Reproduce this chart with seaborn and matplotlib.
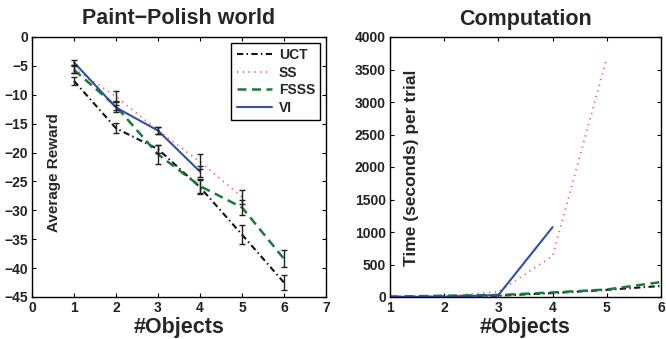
import matplotlib
matplotlib.use("Agg")
import matplotlib.pyplot as plt
import seaborn as sns
import numpy as np


# number of objects
objects = [1, 2, 3, 4, 5, 6]

# average reward (left panel) and error bar half-widths
uct_reward = [-7.6, -15.8, -19.4, -26.0, -34.2, -42.5]
uct_err = [0.7, 0.9, 0.7, 1.2, 1.65, 1.25]
ss_reward = [-5.5, -10.3, -16.2, -21.6, -27.7]
ss_err = [0.7, 0.9, 0.6, 1.3, 1.2]
fsss_reward = [-5.7, -12.0, -20.3, -25.8, -29.5, -38.4]
fsss_err = [0.6, 1.0, 1.6, 1.2, 1.3, 1.45]
vi_reward = [-4.4, -12.2, -16.2, -23.3]
vi_err = [0.4, 0.5, 0.6, 0.9]

# computation time per trial (right panel)
uct_time = [3, 10, 20, 60, 110, 170]
ss_time = [2, 10, 80, 630, 3680]
fsss_time = [5, 20, 30, 70, 115, 230]
vi_time = [1, 5, 30, 1075]

names = ["UCT", "SS", "FSSS", "VI"]
colors = {"UCT": "#111111", "SS": "#ff5a5a", "FSSS": "#1b7a3a", "VI": "#3050a8"}
styles = {
    "UCT": (0, (3.0, 1.6, 0.7, 1.6)),
    "SS": (0, (0.6, 2.4)),
    "FSSS": (0, (3.6, 2.2)),
    "VI": "-",
}
widths = {"UCT": 1.5, "SS": 1.4, "FSSS": 1.8, "VI": 1.5}

rewards = {"UCT": (uct_reward, uct_err), "SS": (ss_reward, ss_err),
           "FSSS": (fsss_reward, fsss_err), "VI": (vi_reward, vi_err)}
times = {"UCT": uct_time, "SS": ss_time, "FSSS": fsss_time, "VI": vi_time}

sns.set_style("ticks")
plt.rcParams["font.family"] = ["Liberation Sans", "DejaVu Sans"]
plt.rcParams["font.weight"] = "bold"
plt.rcParams["xtick.direction"] = "in"
plt.rcParams["ytick.direction"] = "in"

fig = plt.figure(figsize=(6.66, 3.39), dpi=100)
ax1 = fig.add_axes([32 / 666, 1 - 297 / 339, 294 / 666, 260 / 339])
ax2 = fig.add_axes([390 / 666, 1 - 297 / 339, 271 / 666, 260 / 339])

# left panel: reward with error bars
for name in names:
    vals, err = rewards[name]
    xs = objects[:len(vals)]
    ax1.errorbar(xs, vals, yerr=err, fmt="none", ecolor="#222222",
                 elinewidth=1.0, capsize=2.5, capthick=1.0, zorder=3)
    sns.lineplot(x=xs, y=vals, ax=ax1, color=colors[name],
                 linestyle=styles[name], linewidth=widths[name], label=name,
                 zorder=2)

ax1.set_xlim(0, 7)
ax1.set_ylim(-45, 0)
ax1.set_xticks(range(0, 8))
ax1.set_yticks(range(-45, 1, 5))
ax1.set_yticklabels([str(v).replace("-", "\u2212") for v in range(-45, 1, 5)])
ax1.set_title("Paint\u2212Polish world", fontsize=15.5, fontweight="bold", pad=9)
ax1.set_xlabel("#Objects", fontsize=15.5, fontweight="bold", labelpad=1)
ax1.set_ylabel("Average Reward", fontsize=11, fontweight="bold")
ax1.yaxis.set_label_coords(0.1, 0.477)
leg = ax1.legend(loc="upper right", fontsize=10, handlelength=2.5,
                 borderaxespad=0.4, fancybox=False, framealpha=1,
                 edgecolor="black", labelspacing=0.25, handletextpad=0.5,
                 borderpad=0.4)
leg.get_frame().set_linewidth(1.0)

# right panel: computation time
for name in names:
    vals = times[name]
    xs = objects[:len(vals)]
    sns.lineplot(x=xs, y=vals, ax=ax2, color=colors[name],
                 linestyle=styles[name], linewidth=widths[name])

ax2.set_xlim(1, 6)
ax2.set_ylim(0, 4000)
ax2.set_xticks(range(1, 7))
ax2.set_yticks(range(0, 4001, 500))
ax2.set_title("Computation", fontsize=15.5, fontweight="bold", pad=9)
ax2.set_xlabel("#Objects", fontsize=15.5, fontweight="bold", labelpad=1)
ax2.set_ylabel("Time (seconds) per trial", fontsize=12.5, fontweight="bold")
ax2.yaxis.set_label_coords(0.107, 0.498)

for ax in (ax1, ax2):
    for side in ["top", "right", "bottom", "left"]:
        ax.spines[side].set_visible(True)
        ax.spines[side].set_linewidth(1.0)
        ax.spines[side].set_color("black")
    ax.tick_params(axis="both", which="both", top=True, right=True,
                   length=3, width=0.8, labelsize=10, pad=3, colors="black")
    for lbl in ax.get_xticklabels() + ax.get_yticklabels():
        lbl.set_fontweight("bold")
        lbl.set_color("#222222")

fig.savefig("out.png", dpi=100)
